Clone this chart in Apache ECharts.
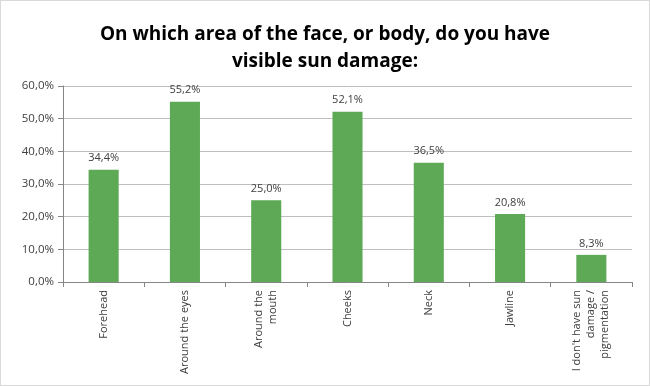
<!DOCTYPE html>
<html><head><meta charset="utf-8">
<script src="https://cdn.jsdelivr.net/npm/echarts@6/dist/echarts.min.js"></script>
<style>html,body{margin:0;padding:0;background:#fff}#c{width:650px;height:386px;box-sizing:border-box;border:1px solid #d9d9d9}</style>
</head><body><div id="c"></div>
<script>
const titleText = "On which area of the face, or body, do you have\nvisible sun damage:";
const categories = ["Forehead", "Around the eyes", "Around the\nmouth", "Cheeks", "Neck", "Jawline", "I don't have sun\ndamage /\npigmentation"];
const values = [34.4, 55.2, 25.0, 52.1, 36.5, 20.8, 8.3];
const yTicks = { min: 0, max: 60, interval: 10 };

const fmt = v => v.toFixed(1).replace('.', ',') + '%';
const chart = echarts.init(document.getElementById('c'), null, {renderer: 'canvas'});
chart.setOption({
  animation: false,
  title: {
    text: titleText, left: 'center', top: 15,
    textStyle: {fontFamily: 'Open Sans', fontWeight: 'bold', fontSize: 19, color: '#000', lineHeight: 27}
  },
  grid: {left: 62, right: 17, top: 85, bottom: 103, containLabel: false},
  xAxis: {
    type: 'category', data: categories,
    axisLine: {lineStyle: {color: '#868686'}},
    axisTick: {show: true, length: 5, lineStyle: {color: '#868686'}},
    axisLabel: {rotate: 90, interval: 0, fontFamily: 'Open Sans', fontSize: 11, color: '#404040', margin: 8, lineHeight: 14}
  },
  yAxis: {
    type: 'value', min: yTicks.min, max: yTicks.max, interval: yTicks.interval,
    axisLine: {show: true, lineStyle: {color: '#868686'}},
    axisTick: {show: true, length: 5, lineStyle: {color: '#868686'}},
    splitLine: {lineStyle: {color: '#bfbfbf'}},
    axisLabel: {formatter: v => fmt(v), fontFamily: 'Open Sans', fontSize: 11.5, color: '#404040', margin: 9}
  },
  series: [{
    type: 'bar', data: values, barWidth: '37%',
    itemStyle: {color: '#5ea956'},
    label: {show: true, position: 'top', distance: 6, formatter: p => fmt(p.value), fontFamily: 'Open Sans', fontSize: 11, color: '#404040'}
  }]
});
</script></body></html>
